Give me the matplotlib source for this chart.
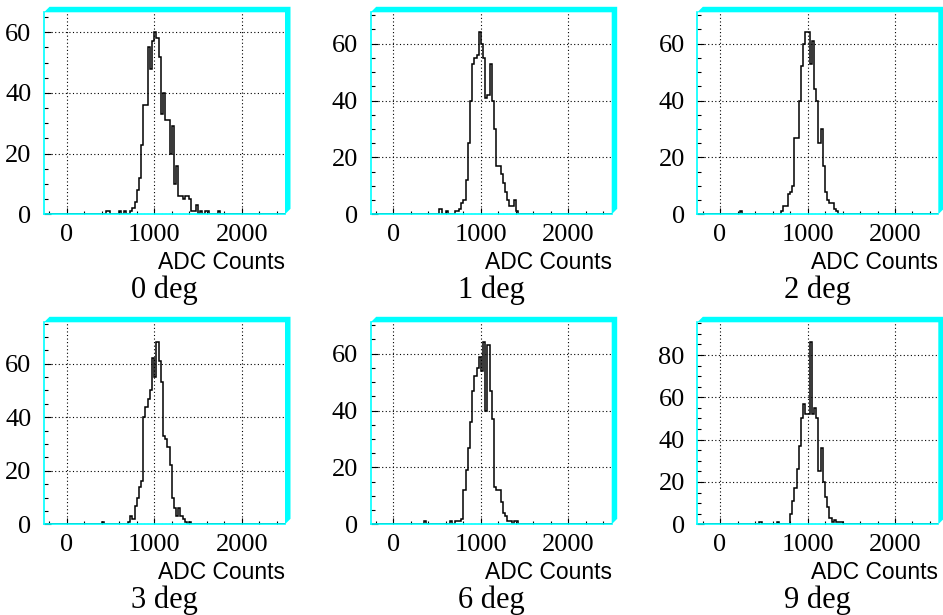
import numpy as np
import matplotlib
matplotlib.use("Agg")
import matplotlib.pyplot as plt
from matplotlib.patches import Polygon
from matplotlib.ticker import MultipleLocator

plt.rcParams["font.family"] = ["Liberation Serif", "DejaVu Serif"]

# -----------------------------------
# DATA (ADC spectra, 25-count bins)
# -----------------------------------

bin_width = 25
x_range = (-250, 2500)

titles = ["0 deg", "1 deg", "2 deg", "3 deg", "6 deg", "9 deg"]

# first bin edge of the contiguous block + its bin contents
start_0 = 725
counts_0 = [1, 2, 4, 8, 12, 23, 36, 36, 55, 48, 57, 60, 58, 52, 33, 40, 31, 31,
            20, 29, 10, 16, 6, 6, 5, 6, 6, 5, 1, 1, 3, 0, 1, 0, 1, 1]
stray_0 = [450, 475, 600, 650, 1725]

start_1 = 700
counts_1 = [1, 1, 2, 4, 5, 12, 25, 40, 53, 55, 56, 64, 60, 55, 41, 42, 53, 40,
            30, 17, 17, 14, 11, 8, 5, 3, 3, 5, 1]
stray_1 = [525, 525, 600]

start_2 = 700
counts_2 = [1, 3, 3, 7, 8, 10, 27, 27, 40, 52, 60, 64, 64, 53, 61, 44, 40, 25,
            30, 17, 8, 5, 4, 4, 2, 1]
stray_2 = [225]

start_3 = 700
counts_3 = [1, 3, 2, 7, 10, 14, 16, 40, 44, 47, 50, 62, 55, 68, 61, 53, 33, 32,
            29, 22, 10, 6, 3, 6, 3, 2, 1, 0, 1]
stray_3 = [400]

start_6 = 700
counts_6 = [1, 1, 1, 2, 12, 19, 27, 36, 47, 52, 55, 59, 54, 64, 40, 63, 47, 37,
            13, 12, 12, 8, 4, 3, 1, 1, 0, 1, 1]
stray_6 = [350, 650]

start_9 = 800
counts_9 = [5, 11, 17, 26, 37, 50, 57, 52, 52, 86, 52, 55, 50, 25, 36, 20, 13,
            8, 3, 1, 2, 1, 1, 1]
stray_9 = [450, 650]

starts = [start_0, start_1, start_2, start_3, start_6, start_9]
blocks = [counts_0, counts_1, counts_2, counts_3, counts_6, counts_9]
strays = [stray_0, stray_1, stray_2, stray_3, stray_6, stray_9]

edges = np.arange(x_range[0], x_range[1] + bin_width, bin_width)


def fill_hist(start, block, stray):
    h = np.zeros(len(edges) - 1)
    i0 = (start - x_range[0]) // bin_width
    h[i0:i0 + len(block)] += block
    idx = (np.array(stray) - x_range[0]) // bin_width
    np.add.at(h, idx, 1)
    return h


# -----------------------------------
# LAYOUT
# -----------------------------------

W, H = 943, 615
fig = plt.figure(figsize=(W / 100, H / 100), dpi=100)

ax_w, ax_h = 241, 202
col_left = [44, 370.7, 697.3]
row_bottom = [214.3, 524.3]
band = 5.5
cyan = "#00ffff"

for k, title in enumerate(titles):
    r, c = divmod(k, 3)
    ax = fig.add_axes([col_left[c] / W, 1 - row_bottom[r] / H, ax_w / W, ax_h / H])

    h = fill_hist(starts[k], blocks[k], strays[k])
    ax.stairs(h, edges, color="black", linewidth=1.1, zorder=2)

    ax.set_xlim(-260, 2495)
    ax.set_ylim(0, h.max() * 1.11)

    ax.xaxis.set_major_locator(MultipleLocator(1000))
    ax.xaxis.set_minor_locator(MultipleLocator(200))
    ax.yaxis.set_major_locator(MultipleLocator(20))
    ax.yaxis.set_minor_locator(MultipleLocator(5))

    ax.grid(True, which="major", color="black",
            linestyle=(0, (1, 2.2)), linewidth=0.8)

    ax.tick_params(which="both", direction="in", top=False, right=False,
                   color="black", width=0.8, labelsize=19)
    ax.tick_params(axis="y", which="major", length=5, pad=9)
    ax.tick_params(axis="y", which="minor", length=2.6)
    ax.tick_params(axis="x", which="major", length=4.5, pad=7)
    ax.tick_params(axis="x", which="minor", length=2.3)

    for side in ("top", "right"):
        ax.spines[side].set_visible(False)
    for side in ("left", "bottom"):
        ax.spines[side].set_color(cyan)
        ax.spines[side].set_linewidth(1.2)
        ax.spines[side].set_zorder(3)

    # thick shadow border on top and right
    dx, dy = band / ax_w, band / ax_h
    shadow = Polygon([(0, 1), (dx, 1 + dy), (1 + dx, 1 + dy), (1 + dx, dy),
                      (1, 0), (1, 1)], closed=True, facecolor=cyan,
                     edgecolor="none", transform=ax.transAxes, clip_on=False)
    ax.add_patch(shadow)

    ax.text(1.0, -55 / ax_h, "ADC Counts", transform=ax.transAxes,
            ha="right", va="baseline", fontsize=16.5,
            family=["Liberation Sans", "DejaVu Sans"])
    ax.text(0.5, -84 / ax_h, title, transform=ax.transAxes,
            ha="center", va="baseline", fontsize=22)

fig.savefig("out.png", dpi=100)
plt.close(fig)
